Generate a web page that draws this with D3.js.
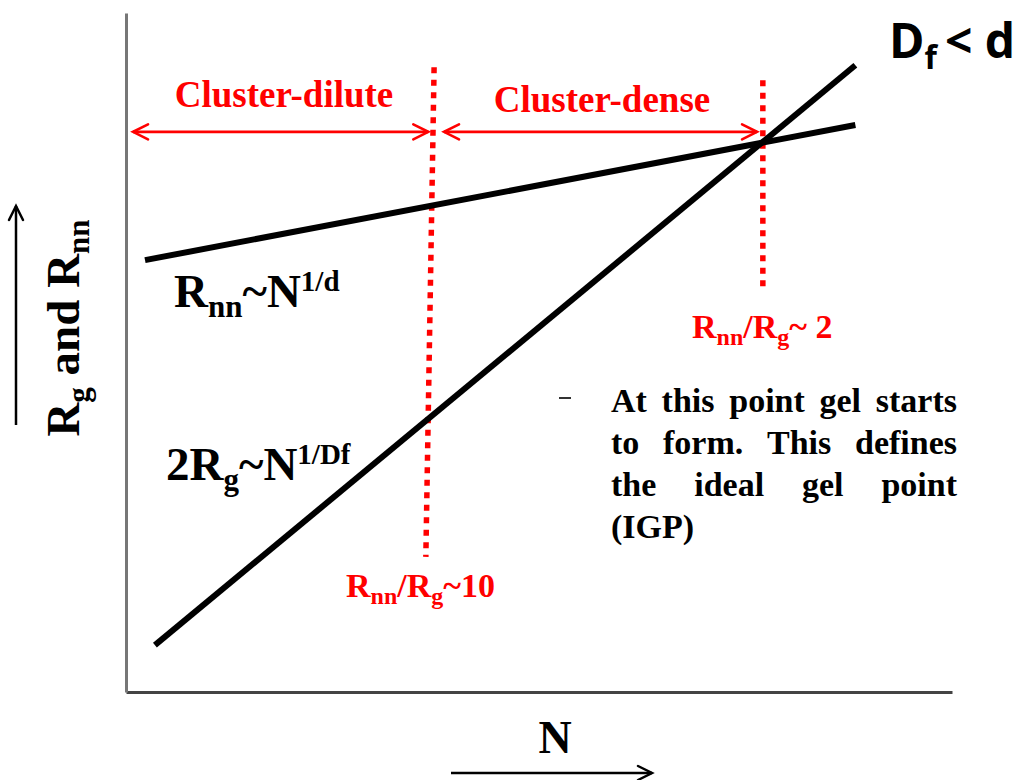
<!DOCTYPE html>
<html>
<head>
<meta charset="utf-8">
<script src="https://cdn.jsdelivr.net/npm/d3@7"></script>
<style>
  html, body { margin: 0; padding: 0; background: #fff; }
  svg { display: block; }
</style>
</head>
<body>
<svg id="chart" width="1028" height="780"></svg>
<script>
// Schematic: characteristic lengths vs. cluster size N (arbitrary units 0-100)
const domainN = [0, 100];
const domainR = [0, 100];

// Two scaling laws, given as end points [N, R]
const rnnLine = [[2.3, 63.6], [88.3, 83.5]];   // Rnn ~ N^(1/d)
const rgLine  = [[3.5, 6.9],  [88.3, 92.3]];   // 2Rg ~ N^(1/Df)

// Regime boundaries (dotted red), end points [N, R]
const boundaryDilute = [[37.3, 92.0], [36.3, 19.9]];  // Rnn/Rg ~ 10
const boundaryGel    = [[77.1, 90.1], [77.1, 59.5]];  // Rnn/Rg ~ 2

// Regime arrows: [from N, to N] at a common height
const regimeNames = ["Cluster-dilute", "Cluster-dense"];
const regimeSpans = [[0.85, 36.6], [38.5, 76.4]];
const regimeLevel = 82.5;

// Paragraph next to the gel point
const noteLines = [
  "At this point gel starts",
  "to form. This defines",
  "the ideal gel point",
  "(IGP)"
];

const svg = d3.select("#chart");
const margin = { left: 126, right: 76, top: 13, bottom: 88 };
const W = 1028, H = 780;

const x = d3.scaleLinear().domain(domainN).range([margin.left, W - margin.right]);
const y = d3.scaleLinear().domain(domainR).range([H - margin.bottom, margin.top]);

const serif = "'Liberation Serif', 'Times New Roman', serif";
const RED = "#ff0000";

// Axes: plain frame lines, no ticks
svg.append("g")
  .attr("transform", `translate(0,${y(0)})`)
  .call(d3.axisBottom(x).ticks(0).tickSizeOuter(0))
  .call(g => g.select(".domain").attr("stroke", "#444").attr("stroke-width", 3));
svg.append("g")
  .attr("transform", `translate(${x(0)},0)`)
  .call(d3.axisLeft(y).ticks(0).tickSizeOuter(0))
  .call(g => g.select(".domain").attr("stroke", "#777").attr("stroke-width", 3));

const line = d3.line().x(d => x(d[0])).y(d => y(d[1]));

// Dotted regime boundaries
[boundaryDilute, boundaryGel].forEach(b => {
  svg.append("path")
    .attr("d", line(b))
    .attr("fill", "none")
    .attr("stroke", RED)
    .attr("stroke-width", 5.5)
    .attr("stroke-dasharray", "6 6.5");
});

// Scaling-law lines
[rnnLine, rgLine].forEach(l => {
  svg.append("path")
    .attr("d", line(l))
    .attr("fill", "none")
    .attr("stroke", "#000")
    .attr("stroke-width", 6);
});

// Open chevron arrowhead at (px,py) pointing in direction angle (deg)
function chevron(g, px, py, angle, len, half, color, sw) {
  g.append("path")
    .attr("d", `M${-len},${-half} L0,0 L${-len},${half}`)
    .attr("transform", `translate(${px},${py}) rotate(${angle})`)
    .attr("fill", "none")
    .attr("stroke", color)
    .attr("stroke-width", sw)
    .attr("stroke-linecap", "round")
    .attr("stroke-linejoin", "miter");
}

// Double-headed regime arrows with labels
const arrows = svg.append("g");
regimeSpans.forEach((s, i) => {
  const x0 = x(s[0]), x1 = x(s[1]), yy = y(regimeLevel);
  arrows.append("line")
    .attr("x1", x0).attr("x2", x1).attr("y1", yy).attr("y2", yy)
    .attr("stroke", RED).attr("stroke-width", 2.6);
  chevron(arrows, x0, yy, 180, 15, 7.5, RED, 2.6);
  chevron(arrows, x1, yy, 0, 15, 7.5, RED, 2.6);
});
svg.append("text")
  .attr("x", 284).attr("y", 107)
  .attr("text-anchor", "middle")
  .attr("font-family", serif).attr("font-weight", "bold")
  .attr("font-size", 37).attr("fill", RED)
  .text(regimeNames[0]);
svg.append("text")
  .attr("x", 602).attr("y", 112)
  .attr("text-anchor", "middle")
  .attr("font-family", serif).attr("font-weight", "bold")
  .attr("font-size", 37).attr("fill", RED)
  .text(regimeNames[1]);

// Rich text helper: segments {t, s (size), dy}
function rich(px, py, size, color, segs, family, anchor) {
  const t = svg.append("text")
    .attr("x", px).attr("y", py)
    .attr("font-family", family || serif)
    .attr("font-weight", "bold")
    .attr("font-size", size)
    .attr("fill", color)
    .attr("text-anchor", anchor || "start");
  let shift = 0;
  segs.forEach(sg => {
    const target = sg.dy || 0;
    t.append("tspan")
      .attr("dy", target - shift)
      .attr("font-size", sg.s || size)
      .text(sg.t);
    shift = target;
  });
  return t;
}

// Df < d
rich(889, 58, 48, "#000", [
  { t: "D" }, { t: "f", s: 32, dy: 11 }, { t: "\u2009< d", dy: 0 }
], "'Open Sans', 'DejaVu Sans', sans-serif");

// Scaling-law labels
rich(174, 307, 47, "#000", [
  { t: "R" }, { t: "nn", s: 31, dy: 10 }, { t: "~N" }, { t: "1/d", s: 29, dy: -16 }
]);
rich(166, 480, 47, "#000", [
  { t: "2R" }, { t: "g", s: 31, dy: 10 }, { t: "~N" }, { t: "1/Df", s: 29, dy: -16 }
]);

// Boundary ratio labels
rich(346, 597, 34, RED, [
  { t: "R" }, { t: "nn", s: 24, dy: 7 }, { t: "/R" }, { t: "g", s: 24, dy: 7 }, { t: "~10" }
]);
rich(692, 338, 34, RED, [
  { t: "R" }, { t: "nn", s: 24, dy: 7 }, { t: "/R" }, { t: "g", s: 24, dy: 7 }, { t: "~ 2" }
]);

// Justified note paragraph
const noteX0 = 611, noteX1 = 957, noteY = 412, noteLead = 42;
noteLines.forEach((ln, i) => {
  const words = ln.split(" ");
  const yy = noteY + i * noteLead;
  const g = svg.append("g");
  const nodes = words.map(w => g.append("text")
    .attr("y", yy)
    .attr("font-family", serif).attr("font-weight", "bold")
    .attr("font-size", 34).attr("fill", "#000")
    .text(w));
  const widths = nodes.map(n => n.node().getComputedTextLength());
  const total = d3.sum(widths);
  const last = i === noteLines.length - 1;
  const gap = (last || words.length < 2) ? 9 : (noteX1 - noteX0 - total) / (words.length - 1);
  let cx = noteX0;
  nodes.forEach((n, k) => { n.attr("x", cx); cx += widths[k] + gap; });
});
// small stray mark to the left of the note
svg.append("line").attr("x1", 559).attr("x2", 571).attr("y1", 398).attr("y2", 398)
  .attr("stroke", "#333").attr("stroke-width", 2);

// Axis titles with direction arrows
const yLab = svg.append("g").attr("transform", "translate(79,328) rotate(-90)");
(function () {
  const t = yLab.append("text")
    .attr("x", 0).attr("y", 0).attr("text-anchor", "middle")
    .attr("font-family", serif).attr("font-weight", "bold")
    .attr("font-size", 47).attr("fill", "#000");
  t.append("tspan").text("R");
  t.append("tspan").attr("dy", 10).attr("font-size", 31).text("g");
  t.append("tspan").attr("dy", -10).text(" and R");
  t.append("tspan").attr("dy", 10).attr("font-size", 31).text("nn");
})();
svg.append("line").attr("x1", 16).attr("x2", 16).attr("y1", 425).attr("y2", 206)
  .attr("stroke", "#000").attr("stroke-width", 2.5);
chevron(svg, 16, 206, -90, 14, 7, "#000", 2.5);

svg.append("text")
  .attr("x", 555).attr("y", 753).attr("text-anchor", "middle")
  .attr("font-family", serif).attr("font-weight", "bold")
  .attr("font-size", 46).attr("fill", "#000")
  .text("N");
svg.append("line").attr("x1", 451).attr("x2", 652).attr("y1", 773).attr("y2", 773)
  .attr("stroke", "#000").attr("stroke-width", 2.5);
chevron(svg, 652, 773, 0, 14, 7, "#000", 2.5);
</script>
</body>
</html>
